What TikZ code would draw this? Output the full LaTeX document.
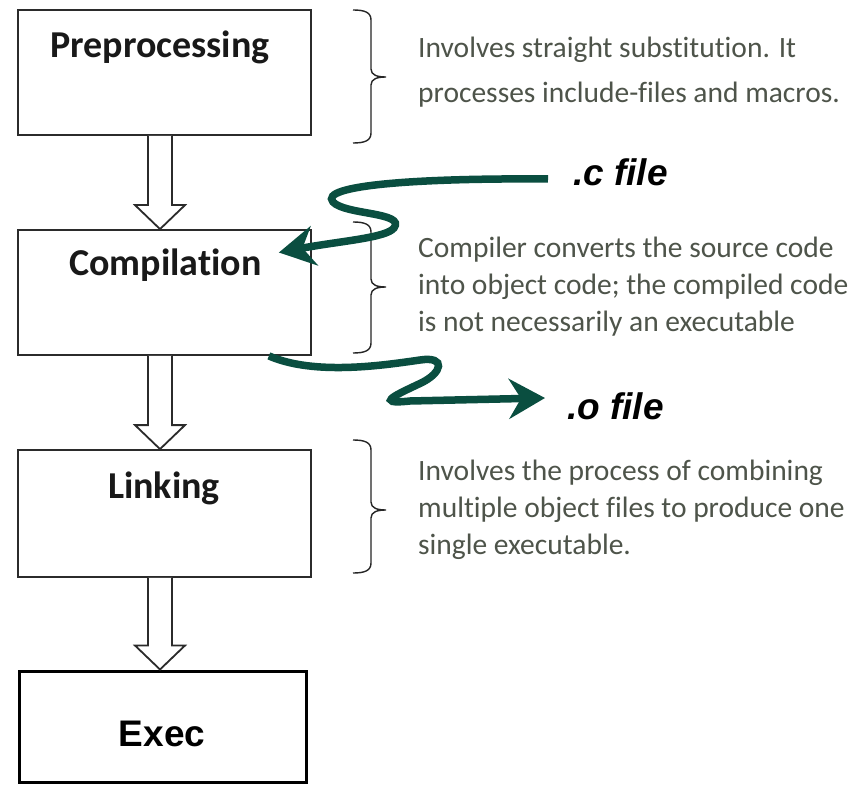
\documentclass[tikz,border=0pt]{standalone}
\usepackage{fontspec}
\setmainfont{Carlito}[Ligatures=NoCommon]
\newfontfamily\arialfont{Liberation Sans}
\usetikzlibrary{arrows.meta,calc}

\definecolor{boxline}{HTML}{2B2B2B}
\definecolor{desctext}{RGB}{78,84,74}
\definecolor{flowgreen}{RGB}{10,78,64}

\tikzset{
  stagebox/.style={draw=boxline, line width=1.8pt, minimum width=293pt,
    minimum height=125pt, inner sep=0pt},
  execbox/.style={draw=black, line width=3pt, minimum width=287pt,
    minimum height=111pt, inner sep=0pt},
  stagetitle/.style={font=\fontsize{38}{42}\selectfont\bfseries,
    text=black!90, anchor=base, inner sep=0pt},
  exectitle/.style={font=\arialfont\bfseries\fontsize{37}{40}\selectfont,
    anchor=base, inner sep=0pt},
  desc/.style={font=\fontsize{29.5}{37}\selectfont, text=desctext,
    anchor=base west, inner sep=0pt},
  filelabel/.style={font=\arialfont\bfseries\itshape\fontsize{37}{40}\selectfont,
    anchor=base west, inner sep=0pt},
  hollow/.style={draw=boxline, line width=1.8pt, fill=white, line join=miter},
  flow/.style={draw=flowgreen, line width=7.5pt,
    -{Stealth[length=36pt,width=40pt,inset=12pt]}},
  bracepath/.style={draw=black!85, line width=1.4pt},
}

% hollow block arrow from the bottom of one stage to the top of the next
\newcommand\hollowarrow[2]{%
  \draw[hollow] let \p1=(#1.south), \p2=(#2.north) in
    (\x1-16.5pt,\y1) -- (\x1-16.5pt,\y2+24pt) -- (\x1-29.5pt,\y2+24pt)
    -- (\x1-4.5pt,\y2) -- (\x1+20.5pt,\y2+24pt) -- (\x1+7.5pt,\y2+24pt)
    -- (\x1+7.5pt,\y1);
}

% curly brace beside a stage: top, tip and bottom heights
\newcommand\sidebrace[3]{%
  \draw[bracepath] (353,#1) .. controls (364,#1) and (371,#1+2) .. (371,#1+10)
    -- (371,#2-8) .. controls (371,#2-2) and (377,#2) .. (386,#2)
    .. controls (377,#2) and (371,#2+2) .. (371,#2+8)
    -- (371,#3-10) .. controls (371,#3-2) and (364,#3) .. (353,#3);
}

\begin{document}
\begin{tikzpicture}[x=1pt, y=-1pt]
\fill[white] (0,0) rectangle (865,786);
\useasboundingbox (0,0) rectangle (865,786);

% stages
\node[stagebox] (pre) at (164.5,72.5) {};
\node[stagebox] (comp) at (164.5,292.5) {};
\node[stagebox, minimum height=127pt] (link) at (164.5,513.5) {};
\node[execbox] (exec) at (162.5,726.5) {};

\node[stagetitle] (pretitle) at (160,58) {Preprocessing};
\node[stagetitle] (comptitle) at (165.5,276) {Compilation};
\node[stagetitle] (linktitle) at (164,498) {Linking};
\node[exectitle] (exectitle) at (162,746) {Exec};

% flow between stages
\hollowarrow{pre}{comp}
\hollowarrow{comp}{link}
\hollowarrow{link}{exec}

% explanations
\sidebrace{10}{77}{143}
\sidebrace{222}{287}{353}
\sidebrace{440}{510}{573}

\node[desc, font=\fontsize{29.5}{45}\selectfont] (d1) at (418,58) {\begin{tabular}[t]{@{}l@{}}Involves straight substitution. It\\processes include-files and macros.\end{tabular}};
\node[desc] (d2) at (418,258) {\begin{tabular}[t]{@{}l@{}}Compiler converts the source code\\into object code; the compiled code\\is not necessarily an executable\end{tabular}};
\node[desc] (d3) at (418,480) {\begin{tabular}[t]{@{}l@{}}Involves the process of combining\\multiple object files to produce one\\single executable.\end{tabular}};

% source file in, object file out
\node[filelabel] (cfile) at (573,186) {.c file};
\node[filelabel] (ofile) at (567,419) {.o file};
\coordinate (cstart) at (548,179);
\coordinate (cin) at ($(comp.east)+(-33,-40)$);
\coordinate (oout) at ($(comp.south east)+(-43,0)$);
\coordinate (oend) at (545,398);

\draw[flow] (cstart) .. controls (420,178) and (318,185) .. (333,202)
  .. controls (345,215) and (406,212) .. (394,228)
  .. controls (386,238) and (340,241) .. (cin);
\draw[flow] (oout) .. controls (315,376) and (385,365) .. (420,360)
  .. controls (447,356) and (442,373) .. (421,383)
  .. controls (398,394) and (372,405) .. (410,401) -- (oend);
\end{tikzpicture}
\end{document}
